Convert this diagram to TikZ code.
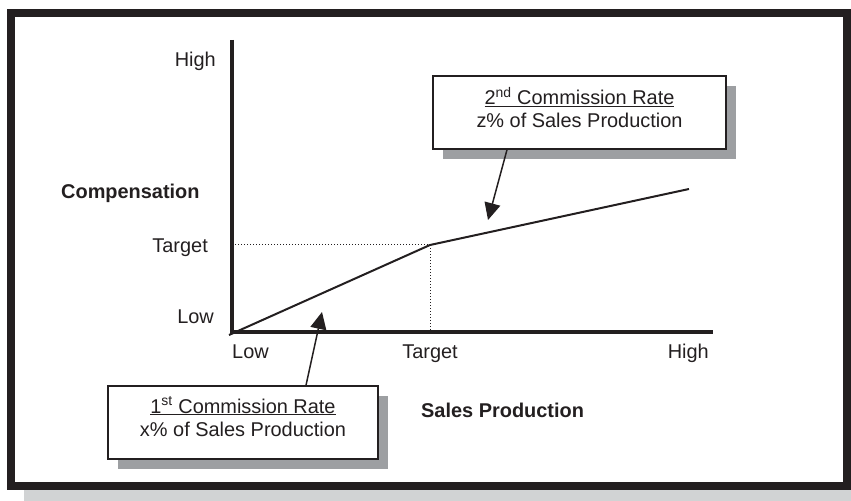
\documentclass[tikz,border=0pt]{standalone}
\usepackage{fontspec}
\setmainfont{Liberation Sans}
\usetikzlibrary{arrows.meta,calc,shadows}
\definecolor{ink}{HTML}{231F20}
\definecolor{shade}{HTML}{9D9FA2}
\definecolor{lshade}{HTML}{D1D3D4}
\tikzset{
  lbl/.style={font=\fontsize{20}{23}\selectfont, text=ink, inner sep=0pt},
  blbl/.style={lbl, font=\fontsize{20}{23}\selectfont\bfseries},
  ratebox/.style={draw=ink, line width=1.5bp, fill=white, inner sep=0pt,
    drop shadow={shadow xshift=10bp, shadow yshift=-10bp, fill=shade, opacity=1}},
  axisline/.style={draw=ink, line width=3.5bp},
  curve/.style={draw=ink, line width=2bp},
  guide/.style={draw=ink, line width=1bp, dash pattern=on 1bp off 2bp},
  pointer/.style={draw=ink, line width=1.5bp, -{Triangle[length=17bp,width=16bp]}},
}
\begin{document}
\begin{tikzpicture}[x=1bp,y=-1bp]
\useasboundingbox (0,0) rectangle (851,501);
% outer frame with shadow
\fill[lshade] (24,490) rectangle (851,501);
\draw[ink, line width=8bp] (11,13) rectangle (847,485.5);

% axes
\coordinate (ytop) at (232,40);
\coordinate (orig) at (232,332);
\coordinate (xend) at (713,332);
\coordinate (tgt) at (430,245);
\coordinate (lstart) at (229,335);
\coordinate (lend) at (689,189);

\draw[guide] (orig |- tgt) -- (tgt) -- (tgt |- orig);
\draw[axisline] (ytop) -- (orig) -- (xend);
\draw[curve] (lstart) -- (tgt) -- (lend);

% y labels
\node[lbl, anchor=base east] (yhigh) at (216,67) {High};
\node[blbl, anchor=base west] (ycomp) at (61,199) {Compensation};
\node[lbl, anchor=base east] (ytarget) at (208,253) {Target};
\node[lbl, anchor=base east] (ylow) at (214,324) {Low};

% x labels
\node[lbl, anchor=base west] (xlow) at (232,358) {Low};
\node[lbl, anchor=base] (xtarget) at (430,358) {Target};
\node[lbl, anchor=base east] (xhigh) at (709,358) {High};
\node[blbl, anchor=base west] (xsales) at (421,417) {Sales Production};

% boxes
\node[ratebox, minimum width=270bp, minimum height=73bp] (box1) at (243,422.5) {};
\node[lbl, anchor=base] (r1a) at (243,413) {\underline{1\textsuperscript{st} Commission Rate}};
\node[lbl, anchor=base] (r1b) at (243,436) {x\% of Sales Production};

\node[ratebox, minimum width=293bp, minimum height=73bp] (box2) at (579.5,112.5) {};
\node[lbl, anchor=base] (r2a) at (579.5,105) {\underline{2\textsuperscript{nd} Commission Rate}};
\node[lbl, anchor=base] (r2b) at (579.5,128) {z\% of Sales Production};

% pointers
\coordinate (a1t) at (322,312);
\coordinate (a2t) at (488,220);
\draw[pointer] ([xshift=63bp]box1.north) -- (a1t);
\draw[pointer] ([xshift=-72.5bp]box2.south) -- (a2t);
\end{tikzpicture}
\end{document}
